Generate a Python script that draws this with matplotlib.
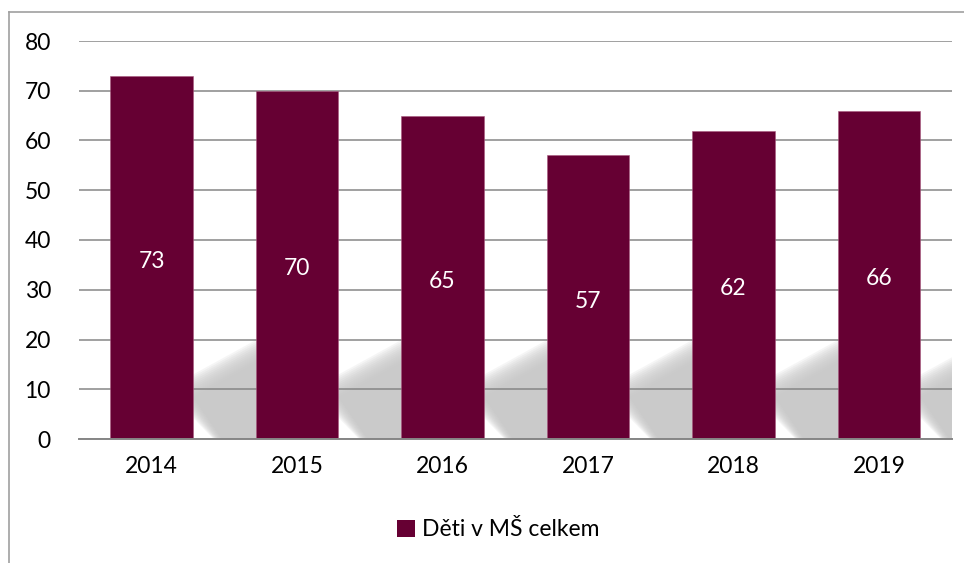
import numpy as np
import matplotlib.pyplot as plt
from matplotlib.patches import Polygon, Patch
from matplotlib.lines import Line2D

# data
years = ["2014", "2015", "2016", "2017", "2018", "2019"]
children = [73, 70, 65, 57, 62, 66]
series_name = "Děti v MŠ celkem"

BAR_COLOR = "#660033"
GRID_COLOR = "#868686"
BAR_WIDTH = 0.57

plt.rcParams["font.family"] = ["Lato", "DejaVu Sans"]

fig = plt.figure(figsize=(9.64, 5.63), dpi=100)
ax = fig.add_axes([78.75 / 964, 124 / 563, 873 / 964, 398 / 563])

x = np.arange(len(years))
ax.bar(x, children, width=BAR_WIDTH, color=BAR_COLOR, edgecolor="#a8587e",
       linewidth=0.4, zorder=3)

# soft grey "perspective shadow" to the right of every bar,
# stacked translucent copies give the blurry edge
for xi in x:
    xr = xi + BAR_WIDTH / 2
    for off in np.linspace(-2.2, 2.2, 12):
        dx = off * 0.014
        shadow = Polygon([(xr - 0.01, 6.8 + off), (xr + 0.172 + dx, 0),
                          (xr + 0.7, 0), (xr + 0.7, 22.0 + off),
                          (xr - 0.01, 10.6 + off)],
                         closed=True, facecolor="#c6c6c6", edgecolor="none",
                         alpha=0.16, zorder=1)
        ax.add_patch(shadow)

for xi, v in zip(x, children):
    ax.text(xi, v / 2 - 0.8, str(v), ha="center", va="center", color="white",
            fontsize=16.5, zorder=4)

ax.set_xlim(-0.5, len(years) - 0.5)
ax.set_ylim(0, 80)
ax.set_yticks(range(0, 81, 10))
ax.set_xticks(x)
ax.set_xticklabels(years)
ax.tick_params(axis="both", length=0, labelsize=16.5, colors="black")
ax.tick_params(axis="y", pad=20)
ax.tick_params(axis="x", pad=12)
ax.yaxis.grid(True, color=GRID_COLOR, linewidth=1.1)
ax.set_axisbelow(False)
for gl in ax.get_ygridlines():
    gl.set_zorder(2)
for side in ["top", "right", "left"]:
    ax.spines[side].set_visible(False)
ax.spines["bottom"].set_color(GRID_COLOR)
ax.spines["bottom"].set_linewidth(1.4)
ax.spines["bottom"].set_zorder(5)

# outer chart frame (runs off the right and bottom edge)
fig.add_artist(Line2D([9 / 964, 1.0], [1 - 12 / 563, 1 - 12 / 563],
                      color="#a0a0a0", linewidth=1.2, transform=fig.transFigure))
fig.add_artist(Line2D([9 / 964, 9 / 964], [0, 1 - 12 / 563],
                      color="#a0a0a0", linewidth=1.2, transform=fig.transFigure))

handles = [Patch(facecolor=BAR_COLOR, edgecolor="none", label=series_name)]
fig.legend(handles=handles, loc="center", bbox_to_anchor=(0.517, 1 - 530 / 563),
           frameon=False, fontsize=16.5, handlelength=0.8, handleheight=0.8,
           handletextpad=0.3)

fig.savefig("out.png", dpi=100)
